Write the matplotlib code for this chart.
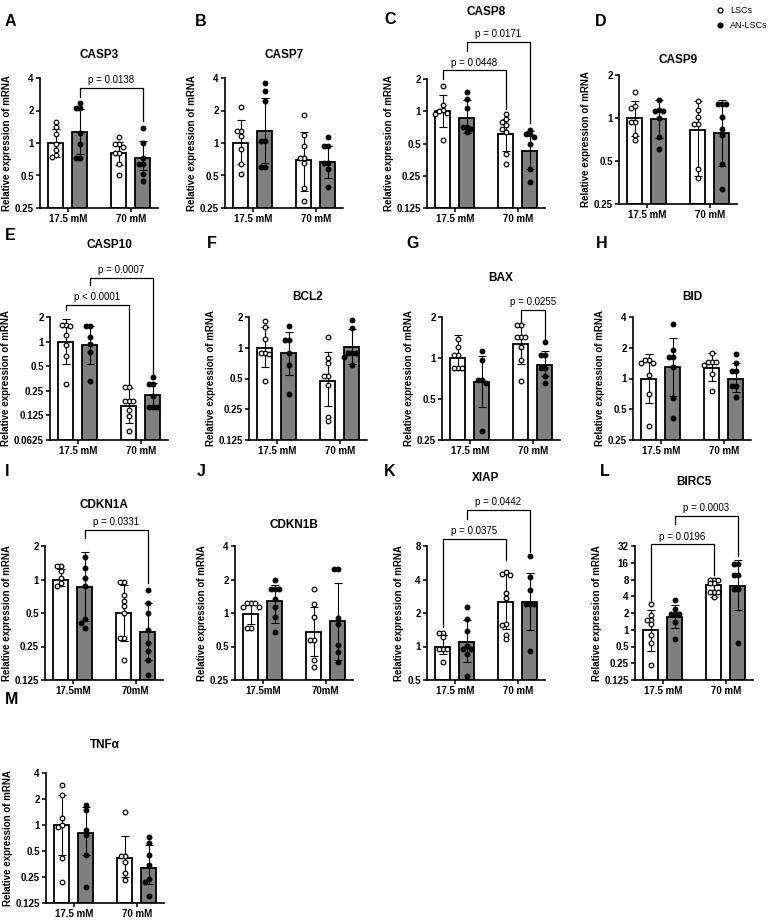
import matplotlib
matplotlib.use("Agg")
import matplotlib.pyplot as plt
from matplotlib.lines import Line2D
from matplotlib.ticker import FixedLocator, FuncFormatter
import numpy as np

plt.rcParams['font.family'] = ['Liberation Sans', 'DejaVu Sans']

W, H = 776, 924
GREY = '#7f7f7f'
SMALL = 7.0

groups = ['17.5 mM', '70 mM']
groups_tight = ['17.5mM', '70mM']
series = ['LSCs', 'AN-LSCs']

# order in every list: LSCs 17.5, AN-LSCs 17.5, LSCs 70, AN-LSCs 70
casp3_mean = [1.0, 1.26, 0.80, 0.72]
casp3_lo = [0.74, 0.79, 0.62, 0.56]
casp3_hi = [1.36, 2.08, 1.02, 1.04]
casp3_pts = [[1.55, 1.4, 1.2, 0.97, 0.87, 0.78, 0.74],
             [2.35, 2.1, 2.1, 1.25, 0.98, 0.73, 0.73],
             [1.14, 0.97, 0.97, 0.92, 0.8, 0.8, 0.64, 0.5],
             [1.38, 1.0, 0.72, 0.64, 0.64, 0.52, 0.44]]

casp7_mean = [1.0, 1.29, 0.69, 0.66]
casp7_lo = [0.64, 0.65, 0.36, 0.47]
casp7_hi = [1.62, 2.6, 1.26, 0.94]
casp7_pts = [[2.15, 1.3, 1.28, 1.15, 0.88, 0.64, 0.52],
             [3.6, 3.0, 2.45, 1.04, 1.04, 0.6, 0.6],
             [1.8, 1.19, 0.94, 0.72, 0.72, 0.65, 0.38, 0.29],
             [1.14, 0.94, 0.94, 0.65, 0.65, 0.58, 0.39]]

casp8_mean = [1.0, 0.87, 0.61, 0.43]
casp8_lo = [0.71, 0.63, 0.43, 0.29]
casp8_hi = [1.41, 1.28, 0.85, 0.65]
casp8_pts = [[1.73, 1.15, 1.02, 1.0, 0.97, 0.95, 0.54],
             [1.51, 1.29, 1.08, 0.72, 0.72, 0.69, 0.64],
             [0.95, 0.84, 0.8, 0.74, 0.69, 0.64, 0.4, 0.32],
             [0.67, 0.61, 0.61, 0.57, 0.5, 0.29, 0.22]]

casp9_mean = [1.0, 0.98, 0.82, 0.78]
casp9_lo = [0.75, 0.73, 0.39, 0.46]
casp9_hi = [1.31, 1.33, 1.31, 1.33]
casp9_pts = [[1.52, 1.21, 1.18, 0.94, 0.94, 0.76, 0.7],
             [1.33, 1.13, 1.12, 1.12, 1.0, 0.74, 0.61],
             [1.31, 1.13, 1.02, 0.91, 0.91, 0.44, 0.38],
             [1.26, 1.26, 1.26, 1.02, 0.84, 0.76, 0.48, 0.32]]

casp10_mean = [1.0, 0.91, 0.163, 0.22]
casp10_lo = [0.53, 0.53, 0.10, 0.16]
casp10_hi = [1.88, 1.55, 0.27, 0.31]
casp10_pts = [[1.59, 1.59, 1.55, 1.2, 0.91, 0.67, 0.3],
              [1.55, 1.55, 1.15, 0.93, 0.74, 0.33],
              [0.28, 0.28, 0.19, 0.19, 0.19, 0.144, 0.123, 0.08],
              [0.37, 0.3, 0.3, 0.215, 0.16, 0.16, 0.16]]

bcl2_mean = [1.0, 0.88, 0.47, 1.02]
bcl2_lo = [0.65, 0.54, 0.27, 0.7]
bcl2_hi = [1.6, 1.43, 0.91, 1.54]
bcl2_pts = [[1.83, 1.6, 1.23, 0.89, 0.89, 0.87, 0.47],
            [1.62, 1.19, 1.19, 0.88, 0.68, 0.35],
            [1.28, 0.79, 0.71, 0.53, 0.53, 0.43, 0.21, 0.19],
            [1.86, 1.57, 0.89, 0.89, 0.89, 0.82, 0.68]]

bax_mean = [1.0, 0.67, 1.26, 0.89]
bax_lo = [0.82, 0.44, 0.91, 0.74]
bax_hi = [1.47, 1.04, 1.79, 1.12]
bax_pts = [[1.39, 1.21, 1.05, 1.05, 0.84, 0.84, 0.84],
           [1.12, 0.97, 0.69, 0.69, 0.65, 0.29],
           [1.74, 1.74, 1.43, 1.43, 1.43, 1.21, 0.97, 0.68],
           [1.31, 1.05, 1.05, 0.84, 0.84, 0.74, 0.65]]

bid_mean = [1.0, 1.31, 1.26, 1.0]
bid_lo = [0.58, 0.68, 0.95, 0.73]
bid_hi = [1.74, 2.5, 1.76, 1.41]
bid_pts = [[1.52, 1.52, 1.41, 1.41, 1.09, 0.7, 0.34],
           [3.4, 1.9, 1.64, 1.64, 1.31, 0.65, 0.41],
           [1.76, 1.46, 1.46, 1.46, 1.36, 1.1, 0.75],
           [1.72, 1.41, 1.19, 1.19, 0.84, 0.84, 0.66]]

cdkn1a_mean = [1.0, 0.85, 0.5, 0.34]
cdkn1a_lo = [0.87, 0.42, 0.28, 0.19]
cdkn1a_hi = [1.23, 1.76, 0.9, 0.62]
cdkn1a_pts = [[1.32, 1.32, 1.19, 1.03, 0.93, 0.88],
              [1.6, 1.27, 1.03, 0.87, 0.44, 0.41, 0.37],
              [0.95, 0.95, 0.73, 0.64, 0.58, 0.5, 0.3, 0.3, 0.19],
              [0.81, 0.62, 0.5, 0.35, 0.27, 0.23, 0.19, 0.14]]

cdkn1b_mean = [0.98, 1.28, 0.68, 0.85]
cdkn1b_lo = [0.8, 0.82, 0.41, 0.38]
cdkn1b_hi = [1.25, 1.77, 1.13, 1.85]
cdkn1b_pts = [[1.22, 1.22, 1.22, 1.13, 1.13, 0.73, 0.73],
              [1.99, 1.65, 1.65, 1.65, 1.34, 1.13, 0.93, 0.67],
              [1.65, 1.21, 0.93, 0.57, 0.57, 0.38, 0.33],
              [2.5, 2.5, 0.9, 0.8, 0.52, 0.45, 0.36]]

xiap_mean = [0.99, 1.09, 2.51, 2.51]
xiap_lo = [0.86, 0.72, 1.44, 1.42]
xiap_hi = [1.26, 1.72, 4.59, 4.53]
xiap_pts = [[1.32, 1.32, 1.21, 0.95, 0.95, 0.95, 0.72],
            [2.27, 1.78, 1.38, 1.02, 0.95, 0.95, 0.86, 0.54],
            [4.7, 4.5, 4.4, 3.0, 2.7, 1.6, 1.55, 1.27, 1.17],
            [6.5, 4.25, 3.2, 2.43, 2.43, 2.43, 0.92]]

birc5_mean = [0.97, 1.69, 6.3, 6.14]
birc5_lo = [0.42, 1.09, 3.9, 2.23]
birc5_hi = [2.23, 2.75, 7.8, 17.9]
birc5_pts = [[2.95, 1.87, 1.47, 1.47, 1.25, 0.79, 0.57, 0.23],
             [3.4, 2.4, 1.94, 1.94, 1.94, 1.37, 0.67],
             [8.0, 8.0, 8.0, 6.8, 6.8, 4.8, 4.8, 4.8, 3.9],
             [15.5, 15.5, 9.6, 9.6, 5.5, 5.5, 0.57]]

tnfa_mean = [1.0, 0.8, 0.42, 0.32]
tnfa_lo = [0.45, 0.45, 0.25, 0.21]
tnfa_hi = [2.2, 1.6, 0.75, 0.58]
tnfa_pts = [[2.9, 2.2, 1.2, 1.0, 0.95, 0.42, 0.22],
            [1.7, 1.5, 0.87, 0.77, 0.45, 0.19],
            [1.4, 0.44, 0.44, 0.37, 0.28, 0.23],
            [0.73, 0.62, 0.45, 0.34, 0.24, 0.22, 0.15]]

# brackets: (bar i, bar j, top, left leg end, right leg end, text)
casp3_sig = [(1, 3, 3.23, 2.65, 1.6, 'p = 0.0138')]
casp8_sig = [(0, 2, 2.41, 2.0, 1.06, 'p = 0.0448'), (1, 3, 4.42, 3.62, 0.77, 'p = 0.0171')]
casp10_sig = [(0, 2, 2.84, 2.42, 0.3, 'p < 0.0001'), (1, 3, 6.04, 4.87, 0.39, 'p = 0.0007')]
bax_sig = [(2, 3, 2.26, 1.84, 1.39, 'p = 0.0255')]
cdkn1a_sig = [(1, 3, 2.81, 2.37, 0.93, 'p = 0.0331')]
xiap_sig = [(0, 2, 9.2, 1.5, 5.97, 'p = 0.0375'), (1, 3, 16.9, 13.9, 7.1, 'p = 0.0442')]
birc5_sig = [(0, 2, 34.3, 3.2, 9.6, 'p = 0.0196'), (1, 3, 112, 80, 21, 'p = 0.0003')]

# name, letter, data, log2 range, x labels, brackets, axes (left, top, bottom px), title y, letter pos
panels = [
    ('CASP3', 'A', (casp3_mean, casp3_lo, casp3_hi, casp3_pts), (-2, 2), groups, casp3_sig, (40, 78, 208), 55, (5, 21)),
    ('CASP7', 'B', (casp7_mean, casp7_lo, casp7_hi, casp7_pts), (-2, 2), groups, [], (225, 78, 208), 55, (195, 21)),
    ('CASP8', 'C', (casp8_mean, casp8_lo, casp8_hi, casp8_pts), (-3, 1), groups, casp8_sig, (427, 79, 208), 12, (384, 20)),
    ('CASP9', 'D', (casp9_mean, casp9_lo, casp9_hi, casp9_pts), (-2, 1), groups, [], (619, 75, 204), 60, (595, 22)),
    ('CASP10', 'E', (casp10_mean, casp10_lo, casp10_hi, casp10_pts), (-4, 1), groups, casp10_sig, (50, 317, 440), 245, (5, 235)),
    ('BCL2', 'F', (bcl2_mean, bcl2_lo, bcl2_hi, bcl2_pts), (-3, 1), groups, [], (249, 317, 440), 297, (207, 243)),
    ('BAX', 'G', (bax_mean, bax_lo, bax_hi, bax_pts), (-2, 1), groups, bax_sig, (442, 317, 440), 278, (406, 243)),
    ('BID', 'H', (bid_mean, bid_lo, bid_hi, bid_pts), (-2, 2), groups, [], (633, 317, 440), 297, (596, 243)),
    ('CDKN1A', 'I', (cdkn1a_mean, cdkn1a_lo, cdkn1a_hi, cdkn1a_pts), (-3, 1), groups_tight, cdkn1a_sig, (45, 546, 680), 505, (5, 472)),
    ('CDKN1B', 'J', (cdkn1b_mean, cdkn1b_lo, cdkn1b_hi, cdkn1b_pts), (-2, 2), groups_tight, [], (235, 546, 680), 525, (197, 472)),
    ('XIAP', 'K', (xiap_mean, xiap_lo, xiap_hi, xiap_pts), (-1, 3), groups, xiap_sig, (427, 546, 680), 478, (384, 472)),
    ('BIRC5', 'L', (birc5_mean, birc5_lo, birc5_hi, birc5_pts), (-3, 5), groups, birc5_sig, (635, 546, 680), 482, (600, 472)),
    ('TNFα', 'M', (tnfa_mean, tnfa_lo, tnfa_hi, tnfa_pts), (-3, 2), groups, [], (46, 773, 903), 745, (5, 700)),
]

AX_W = 118
BAR_X = [-0.19, 0.19, 0.81, 1.19]
BAR_W = 0.24


def swarm(ax, values, step=4.0):
    ys = ax.transData.transform(np.column_stack([np.zeros(len(values)), values]))[:, 1]
    placed = []
    offs = np.zeros(len(values))
    for i in np.argsort(-ys):
        for c in [0, -1, 1, -2, 2, -3, 3]:
            cx = c * step
            if all((cx - px) ** 2 + (ys[i] - py) ** 2 >= (step * 0.95) ** 2 for px, py in placed):
                placed.append((cx, ys[i]))
                offs[i] = cx
                break
    return offs


fig = plt.figure(figsize=(W / 100, H / 100), dpi=100)

for name, letter, data, (e0, e1), xlabels, sig, (left, top, bottom), title_y, (lx, ly) in panels:
    means, lo, hi, pts = data
    ax = fig.add_axes([left / W, 1 - bottom / H, AX_W / W, (bottom - top) / H])
    ax.set_yscale('log', base=2)
    ymin, ymax = 2.0 ** e0, 2.0 ** e1
    ax.set_ylim(ymin, ymax)
    ax.set_xlim(-0.44, 1.43)
    ticks = [2.0 ** e for e in range(e0, e1 + 1)]
    ax.yaxis.set_major_locator(FixedLocator(ticks))
    ax.yaxis.set_minor_locator(FixedLocator([]))
    ax.yaxis.set_major_formatter(FuncFormatter(lambda v, p: f'{v:g}'))
    ax.set_xticks([0, 1])
    ax.set_xticklabels(xlabels, fontweight='bold', fontsize=SMALL)
    for t in ax.get_yticklabels():
        t.set_fontweight('bold')
        t.set_fontsize(SMALL)
    for s in ['top', 'right']:
        ax.spines[s].set_visible(False)
    for s in ['left', 'bottom']:
        ax.spines[s].set_linewidth(1.2)
    ax.tick_params(width=1.1, length=3, pad=1.5)
    ax.set_ylabel('Relative expression of mRNA', fontsize=SMALL, fontweight='bold', labelpad=2)

    px_per_unit = AX_W / (1.43 + 0.44)
    for k in range(4):
        face = 'white' if k % 2 == 0 else GREY
        ax.bar(BAR_X[k], means[k] - ymin, bottom=ymin, width=BAR_W, color=face,
               edgecolor='black', linewidth=1.3, zorder=1)
        ax.errorbar(BAR_X[k], means[k], yerr=[[means[k] - lo[k]], [hi[k] - means[k]]],
                    fmt='none', ecolor='black', elinewidth=0.8, capsize=3.2, capthick=0.8, zorder=2)
        offs = swarm(ax, pts[k])
        ax.scatter(BAR_X[k] + offs / px_per_unit, pts[k], s=11,
                   facecolor='white' if k % 2 == 0 else 'black', edgecolor='black',
                   linewidth=0.9, zorder=3, clip_on=False)

    for i, j, yt, yl, yr, text in sig:
        x1, x2 = BAR_X[i], BAR_X[j]
        ax.plot([x1, x1, x2, x2], [yl, yt, yt, yr], color='black', lw=0.9, clip_on=False)
        ax.annotate(text, ((x1 + x2) / 2, yt), xytext=(0, 2), textcoords='offset points',
                    ha='center', va='bottom', fontsize=SMALL, annotation_clip=False)

    fig.text((left + AX_W / 2) / W, 1 - title_y / H, name, ha='center', va='center',
             fontsize=8.5, fontweight='bold')
    fig.text(lx / W, 1 - ly / H, letter, ha='left', va='center', fontsize=11.5, fontweight='bold')

handles = [Line2D([], [], ls='', marker='o', ms=3.5, mfc='white', mec='black', mew=0.9),
           Line2D([], [], ls='', marker='o', ms=3.5, mfc='black', mec='black', mew=0.9)]
fig.legend(handles, series, loc='upper left', bbox_to_anchor=(710 / W, 1 - 1 / H),
           frameon=False, fontsize=6.5, handlelength=1.0, handletextpad=0.6, labelspacing=0.6,
           borderaxespad=0.2)

fig.savefig('out.png', dpi=100)
